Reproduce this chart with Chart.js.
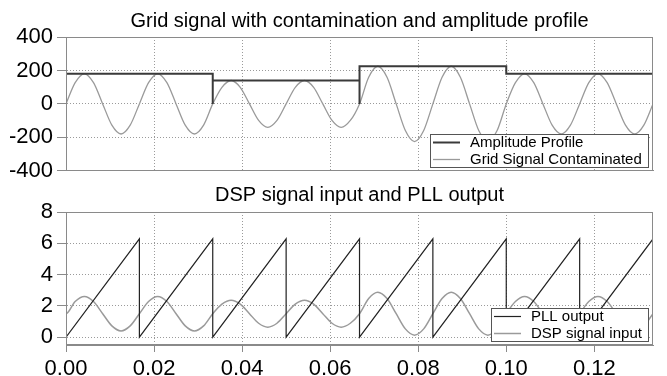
<!DOCTYPE html>
<html>
<head>
<meta charset="utf-8">
<script src="https://cdn.jsdelivr.net/npm/chart.js@4.4.1/dist/chart.umd.min.js"></script>
<style>
  html, body { margin: 0; padding: 0; background: #fff; }
  #wrap { position: relative; width: 667px; height: 376px; overflow: hidden; }
  canvas { position: absolute; left: 0; }
  #top { top: 0; }
  #bottom { top: 184px; }
</style>
</head>
<body>
<div id="wrap">
  <canvas id="top" width="667" height="188"></canvas>
  <canvas id="bottom" width="667" height="192"></canvas>
</div>
<script>
// sample times (s)
const times = [
  0, 0.00208, 0.00417, 0.00625, 0.00833, 0.01042, 0.0125, 0.01458,
  0.01667, 0.01875, 0.02083, 0.02292, 0.025, 0.02708, 0.02917, 0.03125,
  0.03333, 0.03542, 0.0375, 0.03958, 0.04167, 0.04375, 0.04583, 0.04792,
  0.05, 0.05208, 0.05417, 0.05625, 0.05833, 0.06042, 0.0625, 0.06458,
  0.06667, 0.06875, 0.07083, 0.07292, 0.075, 0.07708, 0.07917, 0.08125,
  0.08333, 0.08542, 0.0875, 0.08958, 0.09167, 0.09375, 0.09583, 0.09792,
  0.1, 0.10208, 0.10417, 0.10625, 0.10833, 0.11042, 0.1125, 0.11458,
  0.11667, 0.11875, 0.12083, 0.12292, 0.125, 0.12708, 0.12917, 0.13125,
  0.13333
];
const gridSignal = [
  0, 127, 180, 127, 0, -127, -180, -127,
  0, 127, 180, 127, 0, -127, -180, -127,
  0, 99, 140, 99, 0, -99, -140, -99,
  0, 99, 140, 99, 0, -99, -140, -99,
  0, 159, 225, 159, 0, -159, -225, -159,
  0, 159, 225, 159, 0, -159, -225, -159,
  0, 127, 180, 127, 0, -127, -180, -127,
  0, 127, 180, 127, 0, -127, -180, -127,
  0
];
const dspInput = [
  1.5, 2.28, 2.6, 2.28, 1.5, 0.72, 0.4, 0.72,
  1.5, 2.28, 2.6, 2.28, 1.5, 0.72, 0.4, 0.72,
  1.5, 2.11, 2.36, 2.11, 1.5, 0.89, 0.64, 0.89,
  1.5, 2.11, 2.36, 2.11, 1.5, 0.89, 0.64, 0.89,
  1.5, 2.47, 2.87, 2.47, 1.5, 0.53, 0.13, 0.53,
  1.5, 2.47, 2.87, 2.47, 1.5, 0.53, 0.13, 0.53,
  1.5, 2.28, 2.6, 2.28, 1.5, 0.72, 0.4, 0.72,
  1.5, 2.28, 2.6, 2.28, 1.5, 0.72, 0.4, 0.72,
  1.5
];
const dspSpike = 4.8; // first sample at t = 0

const profileTimes = [0, 0, 0.03333, 0.03333, 0.03333, 0.06667, 0.06667, 0.06667, 0.1, 0.1, 0.13333];
const profileValues = [0, 180, 180, 0, 140, 140, 0, 225, 225, 180, 180];

const pllTimes = [0, 0.01667, 0.01667, 0.03333, 0.03333, 0.05, 0.05, 0.06667, 0.06667,
  0.08333, 0.08333, 0.1, 0.1, 0.11667, 0.11667, 0.13333];
const pllValues = [0, 6.28, 0, 6.28, 0, 6.28, 0, 6.28, 0, 6.28, 0, 6.28, 0, 6.28, 0, 6.28];

const xTicks = [0, 0.02, 0.04, 0.06, 0.08, 0.10, 0.12];
const gridTicks = [-400, -200, 0, 200, 400];
const dspTicks = [0, 2, 4, 6, 8];

const FONT = '"Liberation Sans", Arial, sans-serif';

function pts(xs, ys) {
  return xs.map((x, i) => ({ x: x, y: ys[i] }));
}

// title over the plot, box round the plot, legend inside the lower right corner
const frameLegend = {
  id: 'frameLegend',
  afterDatasetsDraw(chart, args, opts) {
    const ctx = chart.ctx;
    const a = chart.chartArea;
    ctx.save();
    ctx.strokeStyle = '#8a8a8a';
    ctx.lineWidth = 1;
    ctx.strokeRect(Math.round(a.left) + 0.5, Math.round(a.top) + 0.5,
      Math.round(a.right - a.left) - 1, Math.round(a.bottom - a.top) - 1);

    ctx.fillStyle = '#000';
    ctx.font = '20px ' + FONT;
    ctx.textAlign = 'center';
    ctx.textBaseline = 'alphabetic';
    ctx.fillText(opts.title, (a.left + a.right) / 2, opts.titleY);

    ctx.textAlign = 'left';
    ctx.font = '15px ' + FONT;
    const items = chart.data.datasets;
    let tw = 0;
    items.forEach(d => { tw = Math.max(tw, ctx.measureText(d.label).width); });
    const w = Math.round(tw + 46), h = 33;
    const right = Math.round(a.right) - 5, bottom = Math.round(a.bottom) - 4;
    const left = right - w, top = bottom - h;
    ctx.fillStyle = '#fff';
    ctx.fillRect(left, top, w, h);
    ctx.strokeStyle = '#555';
    ctx.strokeRect(left + 0.5, top + 0.5, w, h);
    items.forEach((d, i) => {
      const y = top + 8.5 + i * 17;
      ctx.strokeStyle = d.borderColor;
      ctx.lineWidth = d.borderWidth;
      ctx.beginPath();
      ctx.moveTo(left + 3, y);
      ctx.lineTo(left + 30, y);
      ctx.stroke();
      ctx.fillStyle = '#000';
      ctx.textBaseline = 'middle';
      ctx.fillText(d.label, left + 40, y);
    });
    ctx.restore();
  }
};

function scales(yMin, yMax, yTicks, showX, xHeight) {
  return {
    x: {
      type: 'linear',
      min: 0,
      max: 0.13333,
      afterBuildTicks: s => { s.ticks = xTicks.map(v => ({ value: v })); },
      afterFit: s => { s.height = xHeight; },
      grid: { color: '#9a9a9a', drawTicks: showX, tickLength: 7, tickColor: '#8a8a8a' },
      border: { color: '#8a8a8a', dash: [1, 2] },
      ticks: {
        display: showX,
        color: '#000',
        font: { family: FONT, size: 22 },
        padding: 4,
        maxRotation: 0,
        callback: v => v.toFixed(2)
      }
    },
    y: {
      min: yMin,
      max: yMax,
      afterBuildTicks: s => { s.ticks = yTicks.map(v => ({ value: v })); },
      afterFit: s => { s.width = 66; },
      grid: { color: '#9a9a9a', tickLength: 9, tickColor: '#8a8a8a' },
      border: { color: '#8a8a8a', dash: [1, 2] },
      ticks: {
        color: '#000',
        font: { family: FONT, size: 22 },
        padding: 4
      }
    }
  };
}

new Chart(document.getElementById('top'), {
  type: 'line',
  data: {
    datasets: [
      {
        label: 'Amplitude Profile',
        data: pts(profileTimes, profileValues),
        borderColor: '#3a3a3a',
        borderWidth: 2,
        tension: 0,
        pointRadius: 0
      },
      {
        label: 'Grid Signal Contaminated',
        data: pts(times, gridSignal),
        borderColor: '#9a9a9a',
        borderWidth: 1.3,
        cubicInterpolationMode: 'monotone',
        pointRadius: 0
      }
    ]
  },
  options: {
    responsive: false,
    animation: false,
    devicePixelRatio: 1,
    layout: { padding: { left: 0, right: 14, top: 37, bottom: 0 } },
    scales: scales(-400, 400, gridTicks, false, 17),
    plugins: {
      legend: { display: false },
      tooltip: { enabled: false },
      title: { display: false },
      frameLegend: { title: 'Grid signal with contamination and amplitude profile', titleY: 27 }
    }
  },
  plugins: [frameLegend]
});

new Chart(document.getElementById('bottom'), {
  type: 'line',
  data: {
    datasets: [
      {
        label: 'PLL output',
        data: pts(pllTimes, pllValues),
        borderColor: '#222',
        borderWidth: 1.2,
        tension: 0,
        pointRadius: 0
      },
      {
        label: 'DSP signal input',
        data: [{ x: 0, y: dspSpike }].concat(pts(times, dspInput)),
        borderColor: '#9a9a9a',
        borderWidth: 1.5,
        cubicInterpolationMode: 'monotone',
        pointRadius: 0
      }
    ]
  },
  options: {
    responsive: false,
    animation: false,
    devicePixelRatio: 1,
    layout: { padding: { left: 0, right: 14, top: 28, bottom: 0 } },
    scales: scales(-0.5, 8, dspTicks, true, 31),
    plugins: {
      legend: { display: false },
      tooltip: { enabled: false },
      title: { display: false },
      frameLegend: { title: 'DSP signal input and PLL output', titleY: 17 }
    }
  },
  plugins: [frameLegend]
});
</script>
</body>
</html>
